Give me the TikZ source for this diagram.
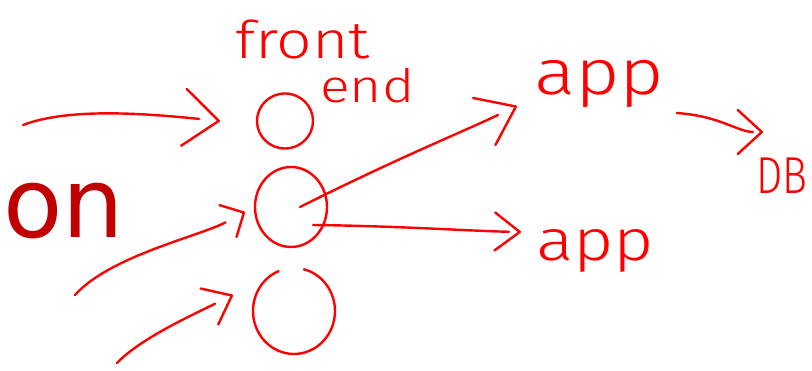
\documentclass[tikz,border=0pt]{standalone}
\usepackage{fontspec}
\usetikzlibrary{arrows.meta,shapes.geometric,calc,decorations.markings}
\newfontfamily\handfont[FakeStretch=1.2]{Fira Sans Light}
\newfontfamily\dbfont[FakeStretch=0.8]{Fira Sans Light}
\newfontfamily\onfont{DejaVu Sans}
\definecolor{pen}{HTML}{FF0000}
\definecolor{ondark}{HTML}{C00000}
\begin{document}
\begin{tikzpicture}[x=1pt,y=1pt,
  hand/.style={draw=pen, line width=2.4pt, line cap=round, line join=round},
  ring/.style={ellipse, inner sep=0pt, outer sep=0pt},
  headed/.style n args={3}{shorten >=#1, postaction={decorate, decoration={markings,
      mark=at position 1 with {\arrow{Straight Barb[length=#2,width=#3,round]}}}}},
  handtxt/.style={text=pen, inner sep=0pt, anchor=base west}]
\useasboundingbox (0,0) rectangle (812,371);
\fill[white] (0,0) rectangle (812,371);

% big text
\node[text=ondark, font=\onfont\fontsize{97}{97}\selectfont, inner sep=0pt, anchor=base west] (on) at (3,133) {on};

% circles
\node[ring, hand, minimum width=56pt, minimum height=55pt] (fe) at (285,250) {};
\node[ring, hand, minimum width=72pt, minimum height=80pt] (mid) at (291,164) {};
\node[ring, minimum width=82pt, minimum height=86pt] (bot) at (294,60) {};
\draw[hand] (bot.center) ++(112:41 and 43) arc[start angle=112,end angle=436,x radius=41,y radius=43];

% labels
\node[handtxt, font=\handfont\fontsize{52}{52}\selectfont] (front) at (235,312) {front};
\node[handtxt, font=\handfont\fontsize{46}{46}\selectfont] (endtxt) at (320,268) {end};
\node[handtxt, font=\handfont\fontsize{64}{64}\selectfont] (app1) at (534,276) {app};
\node[handtxt, font=\handfont\fontsize{58}{58}\selectfont] (app2) at (536,110) {app};
\node[handtxt, font=\dbfont\fontsize{52}{52}\selectfont] (db) at (756,177) {DB};

% free ends
\coordinate (in1) at (23,246);
\coordinate (in2) at (75,76);
\coordinate (in3) at (117,8);

% connectors
\draw[hand, headed={21pt}{35pt}{57pt}]
  (in1) .. controls (70,264) and (150,257) .. ([xshift=-37pt]fe.west);
\draw[hand, headed={22pt}{18pt}{36pt}]
  (in2) .. controls (110,115) and (200,135) .. ([shift={(-10pt,-5pt)}]mid.west);
\draw[hand, headed={20pt}{25pt}{40pt}]
  (in3) .. controls (140,32) and (190,55) .. ([shift={(-20pt,16pt)}]bot.west);
\draw[hand, headed={21pt}{35pt}{52pt}]
  ([xshift=9pt]mid.center) .. controls (400,214) and (460,238) .. ([shift={(-17pt,-11pt)}]app1.base west);
\draw[hand, headed={12pt}{25pt}{38pt}]
  ([shift={(22pt,-18pt)}]mid.center) .. controls (400,145) and (470,140) .. ([shift={(-15pt,29pt)}]app2.base west);
\draw[hand, headed={10pt}{24pt}{44pt}]
  ([shift={(12pt,-18pt)}]app1.base east) .. controls (720,255) and (738,239) .. ([shift={(7pt,62pt)}]db.base west);
\end{tikzpicture}
\end{document}
